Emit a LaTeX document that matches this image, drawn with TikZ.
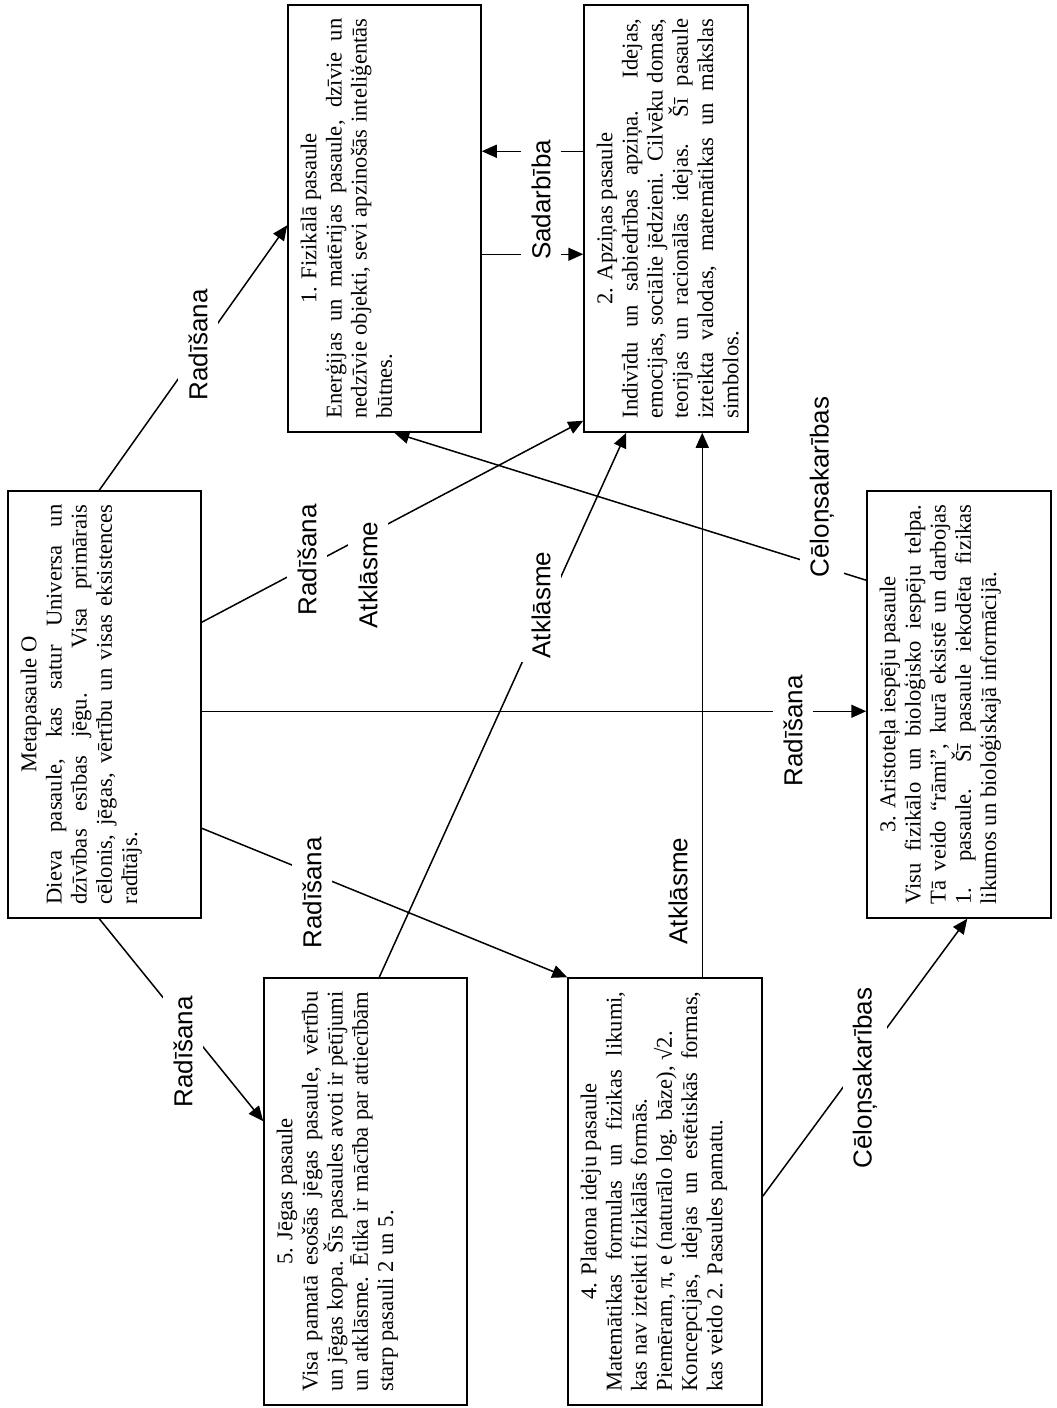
\documentclass[tikz,border=0pt]{standalone}
\usepackage{fontspec}
\setmainfont{Liberation Serif}
\newfontfamily\labelfont{Liberation Sans}
\usetikzlibrary{arrows.meta,calc}
\newcommand{\boxtext}[2]{\begin{minipage}{200pt}{\centering #1\par}#2\end{minipage}}
\begin{document}
\begin{tikzpicture}[x=0.5pt,y=-0.5pt,
  box/.style={draw, line width=0.75pt, inner sep=0pt, minimum height=213.5pt},
  txt/.style={rotate=90, anchor=north, inner sep=0pt,
    font=\fontsize{11.3}{12.6}\selectfont},
  lab/.style={rotate=90, fill=white, inner xsep=2pt, inner ysep=5pt,
    font=\labelfont\fontsize{13}{15}\selectfont},
  ln/.style={line width=0.75pt},
  arr/.style={line width=0.75pt, -{Triangle[length=7.5pt,width=6.5pt]}}]
\useasboundingbox (0,0) rectangle (1056,1408);

% boxes
\node[box, minimum width=96.5pt] (b0) at (104.5,704.5) {};
\node[box, minimum width=96.5pt] (b1) at (384.5,218.5) {};
\node[box, minimum width=82pt]   (b2) at (666,218.5) {};
\node[box, minimum width=92pt]   (b3) at (959,704.5) {};
\node[box, minimum width=101.5pt] (b5) at (365.5,1191.5) {};
\node[box, minimum width=97pt]   (b4) at (665,1191.5) {};

% texts
\node[txt] (t0) at ($(b0.west)+(13,0)$) {\boxtext{Metapasaule O}{%
Dieva pasaule, kas satur Universa un\linebreak
dzīvības esības jēgu. Visa primārais\linebreak
cēlonis, jēgas, vērtību un visas eksistences\linebreak
radītājs.}};
\node[txt] (t1) at ($(b1.west)+(13,0)$) {\boxtext{1. Fizikālā pasaule}{%
Enerģijas un matērijas pasaule, dzīvie un\linebreak
nedzīvie objekti, sevi apzinošās inteliģentās\linebreak
būtnes.}};
\node[txt] (t2) at ($(b2.west)+(13,0)$) {\boxtext{2. Apziņas pasaule}{%
Indivīdu un sabiedrības apziņa. Idejas,\linebreak
emocijas, sociālie jēdzieni. Cilvēku domas,\linebreak
teorijas un racionālās idejas. Šī pasaule\linebreak
izteikta valodas, matemātikas un mākslas\linebreak
simbolos.}};
\node[txt] (t3) at ($(b3.west)+(13,0)$) {\boxtext{3. Aristoteļa iespēju pasaule}{%
Visu fizikālo un bioloģisko iespēju telpa.\linebreak
Tā veido “rāmi”, kurā eksistē un darbojas\linebreak
1. pasaule. Šī pasaule iekodēta fizikas\linebreak
likumos un bioloģiskajā informācijā.}};
\node[txt] (t4) at ($(b4.west)+(13,0)$) {\boxtext{4. Platona ideju pasaule}{%
Matemātikas formulas un fizikas likumi,\linebreak
kas nav izteikti fizikālās formās.\par
Piemēram, π, e (naturālo log. bāze), √2.\par
Koncepcijas, idejas un estētiskās formas,\linebreak
kas veido 2. Pasaules pamatu.}};
\node[txt] (t5) at ($(b5.west)+(13,0)$) {\boxtext{5. Jēgas pasaule}{%
Visa pamatā esošās jēgas pasaule, vērtību\linebreak
un jēgas kopa. Šīs pasaules avoti ir pētījumi\linebreak
un atklāsme. Ētika ir mācība par attiecībām\linebreak
starp pasauli 2 un 5.}};

% connectors
\draw[arr] ($(b0.north west)+(92,0)$) -- ($(b1.north west)+(0,221)$);
\draw[arr] ($(b0.north east)+(0,132)$) -- ($(b2.south west)+(0,-12)$);
\draw[arr] ($(b5.north west)+(116,0)$) -- ($(b2.south west)+(43,0)$);
\draw[arr] ($(b0.north east)+(0,221)$) -- ($(b3.north west)+(0,221)$);
\draw[arr] ($(b4.north west)+(135,0)$) -- ($(b2.south west)+(119,0)$);
\draw[arr] ($(b3.north west)+(0,90)$) -- ($(b1.south west)+(107,0)$);
\draw[arr] ($(b4.north east)+(0,219)$) -- ($(b3.south west)+(101,0)$);
\draw[arr] ($(b0.north east)+(0,338)$) -- (b4.north west);
\draw[arr] ($(b0.south west)+(92,0)$) -- ($(b5.north west)+(0,144)$);
\draw[arr] ($(b2.north west)+(0,147)$) -- ($(b1.north east)+(0,147)$);
\draw[arr] ($(b1.north east)+(0,250)$) -- ($(b2.north west)+(0,250)$);

% labels
\node[lab] (l1) at (198,345) {Radīšana};
\node[lab] (l2) at (307,560) {Radīšana};
\node[lab] (l3) at (368,575) {Atklāsme};
\node[lab] (l4) at (541,605) {Atklāsme};
\node[lab] (l5) at (793,731) {Radīšana};
\node[lab] (l6) at (822,487) {Cēloņsakarības};
\node[lab] (l7) at (678,891) {Atklāsme};
\node[lab] (l8) at (865,1078) {Cēloņsakarības};
\node[lab] (l9) at (312,893) {Radīšana};
\node[lab] (l10) at (183,1052) {Radīšana};
\node[lab] (l11) at (541,200) {Sadarbība};
\end{tikzpicture}
\end{document}
